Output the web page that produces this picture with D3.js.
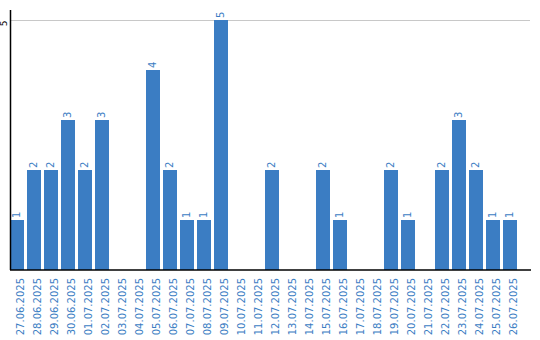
<!DOCTYPE html>
<html>
<head>
<meta charset="utf-8">
<script src="https://cdn.jsdelivr.net/npm/d3@7"></script>
<style>
  body { margin: 0; background: #fff; }
  text { font-family: "DejaVu Sans", sans-serif; }
</style>
</head>
<body>
<div id="chart"></div>
<script>
const dates = [
  '27.06.2025', '28.06.2025', '29.06.2025', '30.06.2025', '01.07.2025',
  '02.07.2025', '03.07.2025', '04.07.2025', '05.07.2025', '06.07.2025',
  '07.07.2025', '08.07.2025', '09.07.2025', '10.07.2025', '11.07.2025',
  '12.07.2025', '13.07.2025', '14.07.2025', '15.07.2025', '16.07.2025',
  '17.07.2025', '18.07.2025', '19.07.2025', '20.07.2025', '21.07.2025',
  '22.07.2025', '23.07.2025', '24.07.2025', '25.07.2025', '26.07.2025'
];
const counts = [
  1, 2, 2, 3, 2, 3, 0, 0, 4, 2,
  1, 1, 5, 0, 0, 2, 0, 0, 2, 1,
  0, 0, 2, 1, 0, 2, 3, 2, 1, 1
];
const yTicks = [5];

const width = 540;
const height = 340;
const blue = '#3b7dc3';

const svg = d3.select('#chart')
  .append('svg')
  .attr('width', width)
  .attr('height', height);

const x = d3.scaleBand()
  .domain(dates)
  .range([10, 517])
  .paddingInner(3 / 17)
  .paddingOuter(0);

const y = d3.scaleLinear()
  .domain([0, 5.2])
  .range([270, 10]);

// grid lines
svg.append('g')
  .selectAll('line')
  .data(yTicks)
  .enter()
    .append('line')
    .attr('x1', 10)
    .attr('x2', 530)
    .attr('y1', d => y(d) + 0.5)
    .attr('y2', d => y(d) + 0.5)
    .attr('stroke', '#c8c8c8')
    .attr('stroke-width', 1);

// y tick labels
svg.append('g')
  .selectAll('text')
  .data(yTicks)
  .enter()
    .append('text')
    .attr('transform', d => `translate(7,${y(d) + 0.5}) rotate(-90)`)
    .attr('text-anchor', 'end')
    .attr('font-size', 9)
    .attr('fill', '#000')
    .text(d => d);

// bars
const data = dates.map((d, i) => ({ date: d, value: counts[i] }));

svg.append('g')
  .selectAll('rect')
  .data(data.filter(d => d.value > 0))
  .enter()
    .append('rect')
    .attr('x', d => x(d.date))
    .attr('y', d => y(d.value))
    .attr('width', x.bandwidth())
    .attr('height', d => y(0) - y(d.value))
    .attr('fill', blue);

// value labels
svg.append('g')
  .selectAll('text')
  .data(data.filter(d => d.value > 0))
  .enter()
    .append('text')
    .attr('transform', d => `translate(${x(d.date) + x.bandwidth() / 2 + 2.5},${y(d.value) - 2}) rotate(-90)`)
    .attr('text-anchor', 'start')
    .attr('font-size', 10)
    .attr('fill', blue)
    .text(d => d.value);

// axes lines
svg.append('line')
  .attr('x1', 10.5).attr('x2', 10.5)
  .attr('y1', 10).attr('y2', 270)
  .attr('stroke', '#000')
  .attr('stroke-width', 1.5);

svg.append('line')
  .attr('x1', 10).attr('x2', 531)
  .attr('y1', 270).attr('y2', 270)
  .attr('stroke', '#000')
  .attr('stroke-width', 1.5);

// x labels
svg.append('g')
  .selectAll('text')
  .data(dates)
  .enter()
    .append('text')
    .attr('transform', d => `translate(${x(d) + x.bandwidth() / 2 + 7},278) rotate(-90)`)
    .attr('text-anchor', 'end')
    .attr('font-size', 10)
    .attr('fill', blue)
    .text(d => d);
</script>
</body>
</html>
